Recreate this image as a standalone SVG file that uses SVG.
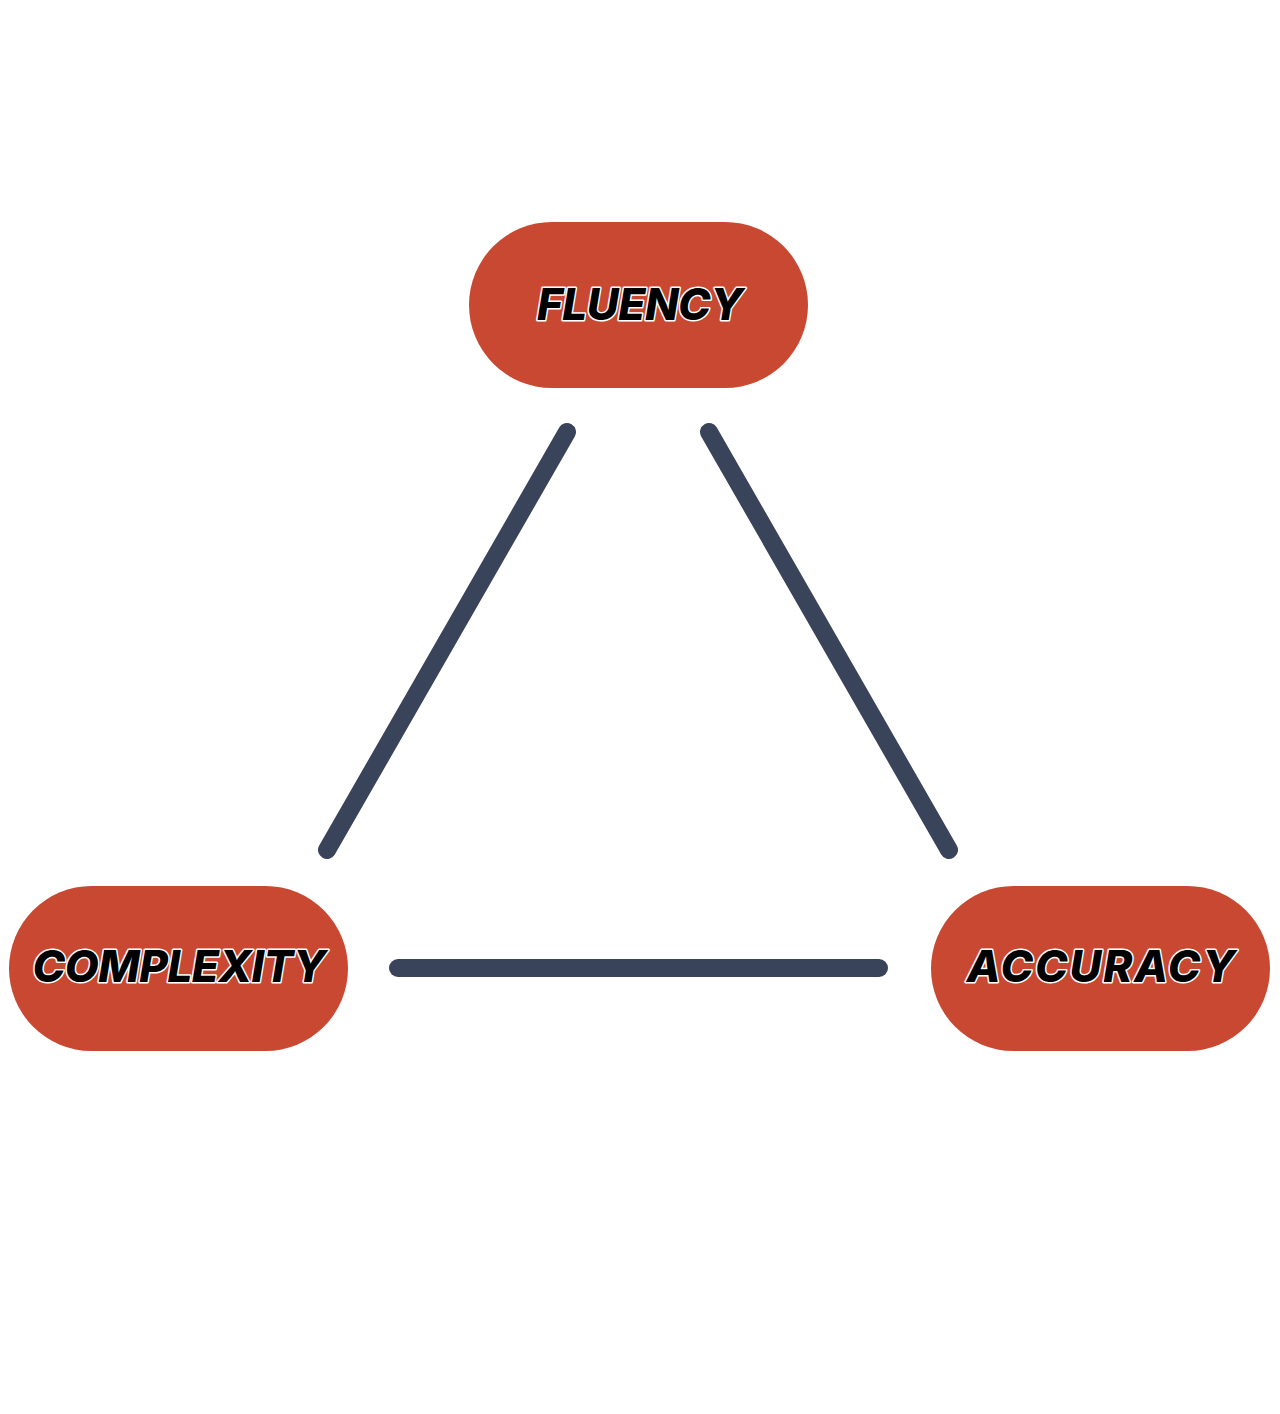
<svg xmlns="http://www.w3.org/2000/svg" width="1280" height="1414" viewBox="0 0 1280 1414">
<style>
.pill{fill:#c94832}
.lbl{font-family:Inter,"Liberation Sans",sans-serif;font-weight:800;font-style:italic;font-size:44px;fill:#000;stroke:#fff;stroke-width:3;paint-order:stroke;stroke-linejoin:round;text-anchor:middle;letter-spacing:-0.5px}
.edge{stroke:#39435a;stroke-width:18;stroke-linecap:round;fill:none}
</style>
<rect width="1280" height="1414" fill="#fff"/>
<g id="connectors">
<line class="edge" x1="567" y1="432" x2="327" y2="850"/>
<line class="edge" x1="709" y1="432" x2="949" y2="850"/>
<line class="edge" x1="398" y1="968" x2="879" y2="968"/>
</g>
<g id="fluency">
<rect class="pill" x="469" y="222" width="339" height="166" rx="83"/>
<text class="lbl" x="640" y="320">FLUENCY</text>
</g>
<g id="complexity">
<rect class="pill" x="9" y="886" width="339" height="165" rx="82.5"/>
<text class="lbl" x="179" y="982">COMPLEXITY</text>
</g>
<g id="accuracy">
<rect class="pill" x="931" y="886" width="339" height="165" rx="82.5"/>
<text class="lbl" x="1102" y="982" style="letter-spacing:1.8px">ACCURACY</text>
</g>
</svg>
